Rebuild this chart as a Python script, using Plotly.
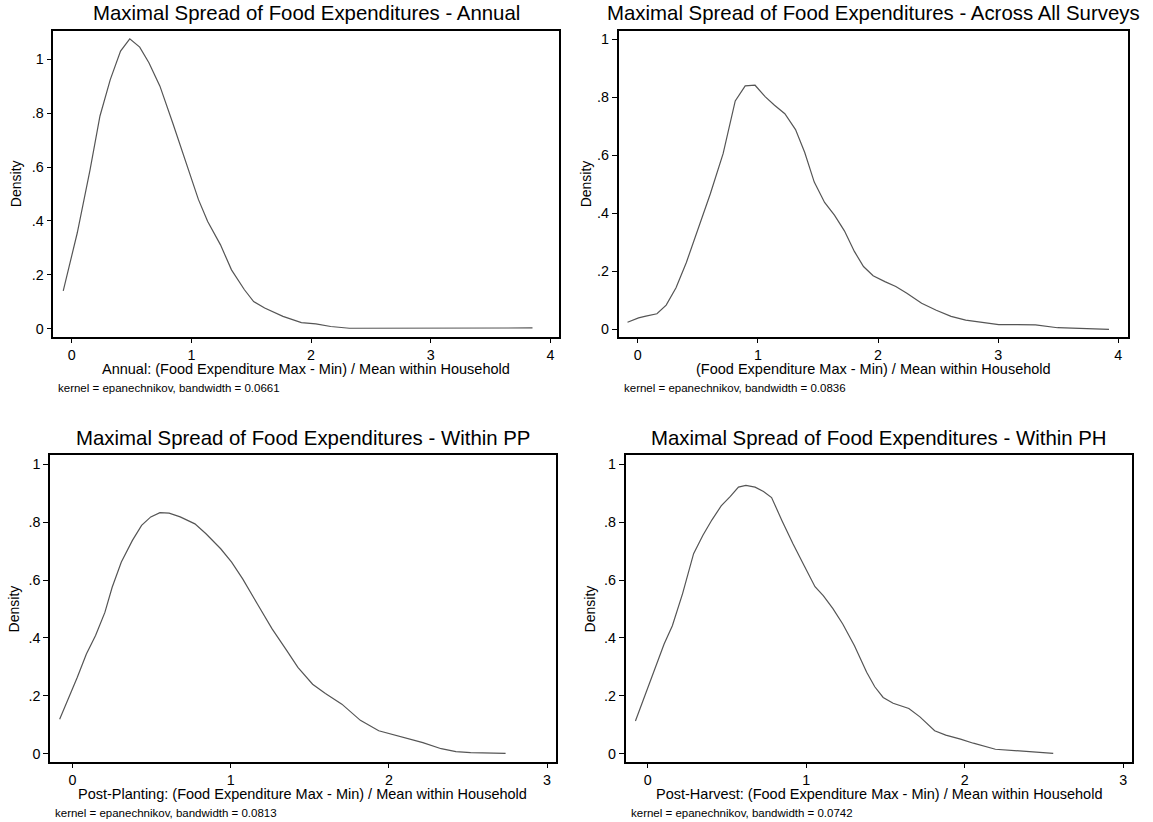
import plotly.graph_objects as go

# ---------------- data ----------------
annual_x = [-0.071, 0.046, 0.153, 0.236, 0.322, 0.408, 0.485, 0.568, 0.645, 0.737, 0.844, 0.936,
            1.059, 1.136, 1.243, 1.335, 1.443, 1.520, 1.612, 1.765, 1.919, 2.04, 2.164, 2.32,
            2.6, 3.0, 3.4, 3.85]
annual_y = [0.140, 0.355, 0.59, 0.79, 0.925, 1.031, 1.077, 1.046, 0.988, 0.901, 0.764, 0.640,
            0.479, 0.398, 0.311, 0.218, 0.144, 0.100, 0.076, 0.045, 0.022, 0.017, 0.0074, 0.001,
            0.001, 0.001, 0.001, 0.002]

all_x = [-0.086, 0.006, 0.067, 0.159, 0.236, 0.318, 0.404, 0.496, 0.603, 0.710, 0.811, 0.894,
         0.976, 1.062, 1.138, 1.224, 1.313, 1.389, 1.469, 1.555, 1.637, 1.720, 1.803, 1.879,
         1.959, 2.057, 2.148, 2.240, 2.363, 2.485, 2.608, 2.730, 2.852, 3.005, 3.158, 3.311,
         3.495, 3.709, 3.923]
all_y = [0.025, 0.040, 0.046, 0.054, 0.084, 0.144, 0.231, 0.340, 0.467, 0.606, 0.788, 0.840,
         0.842, 0.802, 0.773, 0.744, 0.689, 0.611, 0.508, 0.438, 0.394, 0.340, 0.269, 0.217,
         0.185, 0.165, 0.148, 0.125, 0.090, 0.066, 0.045, 0.032, 0.025, 0.017, 0.017, 0.016,
         0.006, 0.0035, 0.0]

pp_x = [-0.081, -0.016, 0.030, 0.088, 0.146, 0.205, 0.251, 0.309, 0.379, 0.437, 0.495, 0.553,
        0.611, 0.681, 0.774, 0.844, 0.937, 1.006, 1.076, 1.169, 1.262, 1.355, 1.425, 1.518,
        1.599, 1.703, 1.820, 1.936, 2.006, 2.099, 2.215, 2.331, 2.424, 2.517, 2.633, 2.738]
pp_y = [0.119, 0.200, 0.263, 0.344, 0.408, 0.488, 0.575, 0.662, 0.737, 0.789, 0.818, 0.833,
        0.831, 0.818, 0.794, 0.760, 0.708, 0.662, 0.604, 0.517, 0.431, 0.356, 0.298, 0.240,
        0.208, 0.171, 0.115, 0.079, 0.069, 0.055, 0.038, 0.017, 0.007, 0.0035, 0.0023, 0.001]

ph_x = [-0.077, -0.012, 0.046, 0.104, 0.156, 0.221, 0.290, 0.348, 0.406, 0.464, 0.522, 0.573,
        0.620, 0.678, 0.731, 0.782, 0.847, 0.917, 0.987, 1.056, 1.108, 1.168, 1.231, 1.305,
        1.382, 1.433, 1.486, 1.549, 1.648, 1.718, 1.811, 1.881, 1.974, 2.055, 2.194, 2.333,
        2.449, 2.559]
ph_y = [0.113, 0.208, 0.292, 0.379, 0.442, 0.554, 0.691, 0.754, 0.808, 0.856, 0.889, 0.921,
        0.927, 0.921, 0.906, 0.885, 0.806, 0.725, 0.650, 0.577, 0.546, 0.502, 0.448, 0.373,
        0.281, 0.231, 0.194, 0.174, 0.156, 0.127, 0.079, 0.064, 0.050, 0.036, 0.015, 0.009,
        0.0046, 0.001]

titles = ["Maximal Spread of Food Expenditures - Annual",
          "Maximal Spread of Food Expenditures - Across All Surveys",
          "Maximal Spread of Food Expenditures - Within PP",
          "Maximal Spread of Food Expenditures - Within PH"]
xtitles = ["Annual: (Food Expenditure Max - Min) / Mean within Household",
           "(Food Expenditure Max - Min) / Mean within Household",
           "Post-Planting: (Food Expenditure Max - Min) / Mean within Household",
           "Post-Harvest: (Food Expenditure Max - Min) / Mean within Household"]
notes = ["kernel = epanechnikov, bandwidth = 0.0661",
         "kernel = epanechnikov, bandwidth = 0.0836",
         "kernel = epanechnikov, bandwidth = 0.0813",
         "kernel = epanechnikov, bandwidth = 0.0742"]
ytick_vals = [0, 0.2, 0.4, 0.6, 0.8, 1]
ytick_text = ["0", ".2", ".4", ".6", ".8", "1"]

series = [(annual_x, annual_y), (all_x, all_y), (pp_x, pp_y), (ph_x, ph_y)]

# ---------------- layout ----------------
W, H = 1153, 822
# frame boxes in pixels: (left, right, top, bottom)
frames = [(53.3, 559.3, 30.7, 337), (618.5, 1128.2, 30.7, 337),
          (50, 555.9, 455.3, 762.3), (625.6, 1132, 455.3, 762.3)]
xranges = [[-0.154, 4.074], [-0.161, 4.083], [-0.142, 3.056], [-0.139, 3.056]]
yranges = [[-0.0316, 1.107], [-0.026, 1.030], [-0.030, 1.031], [-0.030, 1.031]]
xticks = [[0, 1, 2, 3, 4], [0, 1, 2, 3, 4], [0, 1, 2, 3], [0, 1, 2, 3]]
density_dx = [37, 33, 36.4, 36]

FONT = "Liberation Sans, Arial, sans-serif"
fig = go.Figure()
layout = dict(width=W, height=H, margin=dict(l=0, r=0, t=0, b=0),
              paper_bgcolor="white", plot_bgcolor="white", showlegend=False,
              font=dict(family=FONT, color="black"))
annotations = []
for i, ((xs, ys), (l, r, t, b)) in enumerate(zip(series, frames)):
    sfx = "" if i == 0 else str(i + 1)
    fig.add_trace(go.Scatter(x=xs, y=ys, mode="lines", xaxis="x" + sfx, yaxis="y" + sfx,
                             line=dict(color="#555555", width=1.2), hoverinfo="skip"))
    layout["xaxis" + sfx] = dict(domain=[l / W, r / W], range=xranges[i], anchor="y" + sfx,
                                 showgrid=False, zeroline=False, showline=True, mirror=True,
                                 linecolor="black", linewidth=1.5, ticks="outside", ticklen=4,
                                 tickcolor="black", tickvals=xticks[i],
                                 tickfont=dict(size=14.3, family=FONT))
    layout["yaxis" + sfx] = dict(domain=[1 - b / H, 1 - t / H], range=yranges[i], anchor="x" + sfx,
                                 showgrid=False, zeroline=False, showline=True, mirror=True,
                                 linecolor="black", linewidth=1.5, ticks="outside", ticklen=5,
                                 tickcolor="black", tickvals=ytick_vals, ticktext=ytick_text,
                                 tickfont=dict(size=14.3, family=FONT))
    cx = (l + r) / 2
    annotations.append(dict(text=titles[i], x=cx / W, y=1 - (t - 17.2) / H, xref="paper", yref="paper",
                            xanchor="center", yanchor="middle", showarrow=False,
                            font=dict(size=20.4, family=FONT)))
    annotations.append(dict(text=xtitles[i], x=cx / W, y=1 - (b + 32) / H, xref="paper", yref="paper",
                            xanchor="center", yanchor="middle", showarrow=False,
                            font=dict(size=14.5, family=FONT)))
    annotations.append(dict(text=notes[i], x=(l + 3) / W, y=1 - (b + 50.5) / H, xref="paper", yref="paper",
                            xanchor="left", yanchor="middle", showarrow=False,
                            font=dict(size=11.5, family=FONT)))
    annotations.append(dict(text="Density", x=(l - density_dx[i]) / W, y=1 - ((t + b) / 2) / H,
                            xref="paper", yref="paper", xanchor="center", yanchor="middle",
                            showarrow=False, textangle=-90, font=dict(size=14, family=FONT)))
layout["annotations"] = annotations
fig.update_layout(**layout)
fig.write_html("out.html")
